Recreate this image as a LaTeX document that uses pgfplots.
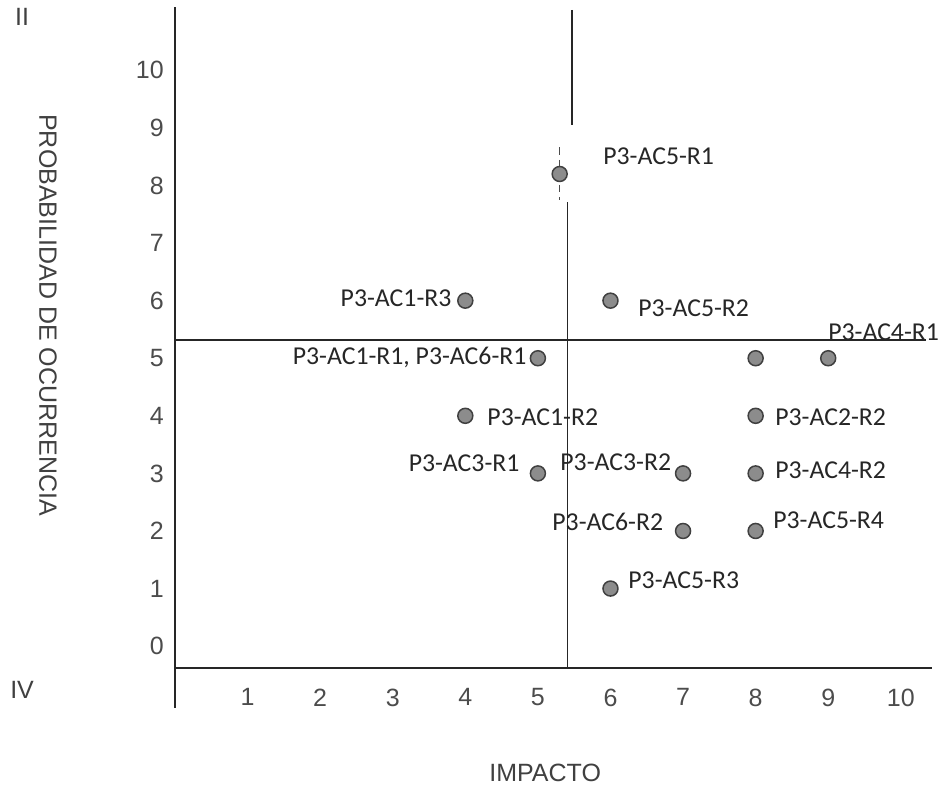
\documentclass[border=0pt]{standalone}
\usepackage{fontspec}
\setmainfont{Liberation Sans}
\newfontfamily\calib{Carlito}
\usepackage{pgfplots}
\pgfplotsset{compat=1.18}

\begin{document}
\begin{tikzpicture}
\begin{axis}[
  name=ax,
  scale only axis,
  width=302.8pt, height=264.4pt,
  xmin=0, xmax=10.43, ymin=-0.38, ymax=11.1,
  axis line style={draw=none},
  xtick={1,...,10}, ytick={0,...,10},
  major tick length=0pt,
  xtick pos=left, ytick pos=left,
  tick label style={font=\fontsize{10}{12}\selectfont, text=black!70},
  xticklabel style={yshift=-4.7pt},
  yticklabel style={xshift=-1pt},
  /pgf/number format/assume math mode=true,
  clip=false,
]
% quadrant and axis lines
\draw[black!85, line width=0.6pt] (axis cs:0,11.1) -- (axis cs:0,-1.08);
\draw[black!85, line width=0.8pt] (axis cs:0,-0.38) -- (axis cs:10.43,-0.38);
\draw[black!85, line width=0.6pt] (axis cs:0,5.32) -- (axis cs:10.35,5.32);
\draw[black!85, line width=0.6pt] (axis cs:5.41,7.71) -- (axis cs:5.41,-0.38);
\draw[black!85, line width=0.6pt] (axis cs:5.47,11.05) -- (axis cs:5.47,9.05);
\draw[black!70, line width=0.4pt, densely dashed] (axis cs:5.3,8.66) -- (axis cs:5.3,7.75);

\addplot[only marks, mark=*, mark size=3pt,
  mark options={fill=black!45, draw=black!75, line width=0.6pt}] table {
x y
5.3 8.2
4 6
6 6
5 5
8 5
9 5
4 4
8 4
5 3
7 3
8 3
7 2
8 2
6 1
};

\begin{scope}[every node/.style={inner sep=0pt, text=black!85, font=\calib\fontsize{10.3}{12}\selectfont}]
\node[anchor=west] at (axis cs:5.895,8.50) {P3-AC5-R1};
\node[anchor=east] at (axis cs:3.815,6.05) {P3-AC1-R3};
\node[anchor=west] at (axis cs:6.377,5.876) {P3-AC5-R2};
\node[anchor=east] at (axis cs:4.848,5.007) {P3-AC1-R1, P3-AC6-R1};
\node[anchor=west] at (axis cs:8.994,5.459) {P3-AC4-R1};
\node[anchor=west] at (axis cs:4.298,3.981) {P3-AC1-R2};
\node[anchor=west] at (axis cs:8.264,3.981) {P3-AC2-R2};
\node[anchor=east] at (axis cs:4.752,3.18) {P3-AC3-R1};
\node[anchor=west] at (axis cs:5.303,3.20) {P3-AC3-R2};
\node[anchor=west] at (axis cs:8.264,3.06) {P3-AC4-R2};
\node[anchor=west] at (axis cs:5.193,2.157) {P3-AC6-R2};
\node[anchor=west] at (axis cs:8.237,2.19) {P3-AC5-R4};
\node[anchor=west] at (axis cs:6.24,1.149) {P3-AC5-R3};
\end{scope}

\begin{scope}[every node/.style={text=black!75, font=\fontsize{10}{12}\selectfont}]
\node at (axis cs:-2.107,10.92) {II};
\node at (axis cs:-2.107,-0.763) {IV};
\node[rotate=-90] at (axis cs:-1.749,5.75) {PROBABILIDAD DE OCURRENCIA};
\node at (axis cs:5.1,-2.205) {IMPACTO};
\end{scope}
\end{axis}
\pgfresetboundingbox
\path[use as bounding box] (ax.south west) ++(-70pt,-47.2pt) rectangle ++(376.8pt,314.4pt);
\end{tikzpicture}
\end{document}
